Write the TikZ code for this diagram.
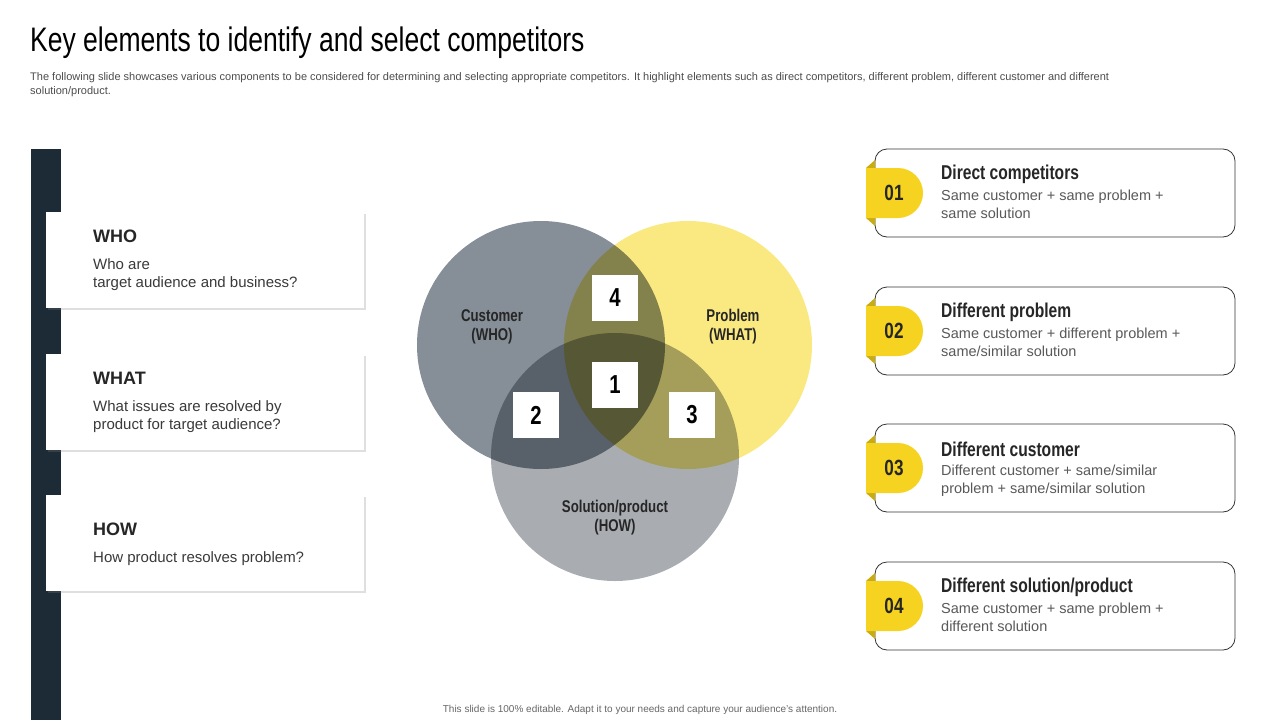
\documentclass[tikz,border=0pt]{standalone}
\usepackage{fontspec}
\setmainfont{Liberation Sans}
\newfontfamily\condfont[FakeStretch=0.78]{Liberation Sans}
\usetikzlibrary{shadows}
\definecolor{mdark}{HTML}{1C2B36}
\definecolor{myellow}{HTML}{F5D320}
\definecolor{mfold}{HTML}{C9AC10}
\definecolor{mcust}{HTML}{868E97}
\definecolor{mprob}{HTML}{FAE981}
\definecolor{msol}{HTML}{A9ADB2}
\definecolor{mtext}{HTML}{3A3A3A}
\tikzset{
  leftcard/.style={fill=white, drop shadow={shadow xshift=2pt, shadow yshift=-2pt, opacity=0.25}},
  cardhead/.style={anchor=west, font=\fontsize{18}{20}\selectfont\bfseries, text=black!85},
  cardbody/.style={anchor=north west, align=left, font=\fontsize{15}{18}\selectfont, text=mtext},
  numbox/.style={fill=white, minimum size=46pt, inner sep=0pt, font=\condfont\fontsize{26}{28}\selectfont\bfseries},
  vennlabel/.style={align=center, font=\condfont\fontsize{17}{19}\selectfont\bfseries, text=black!85},
  rightcard/.style={draw=black!80, fill=white, rounded corners=12pt, line width=0.8pt},
  righthead/.style={anchor=west, font=\condfont\fontsize{20}{22}\selectfont\bfseries, text=black!85},
  rightbody/.style={anchor=north west, align=left, font=\fontsize{14.5}{18}\selectfont, text=black!65}
}
\begin{document}
\begin{tikzpicture}[x=1pt, y=-1pt]
  \useasboundingbox (0,0) rectangle (1280,720);
  % title
  \node[anchor=west, inner sep=0pt, font=\condfont\fontsize{34}{36}\selectfont] (title) at (30,43) {Key elements to identify and select competitors};
  \node[anchor=north west, inner sep=0pt, align=left, font=\fontsize{11}{14}\selectfont, text=black!70] (sub) at (30,72)
    {The following slide showcases various components to be considered for determining and selecting appropriate competitors. It highlight elements such as direct competitors, different problem, different customer and different\\solution/product.};
  % left side
  \fill[mdark] (31,149) rectangle (61,720);
  \foreach \y/\dy/\head/\body in {212/24/WHO/{Who are\\target audience and business?}, 354/24/WHAT/{What issues are resolved by\\product for target audience?}, 495/34/HOW/{How product resolves problem?}} {
    \path[leftcard] (46,\y) rectangle (364,\y+96);
    \node[cardhead, inner sep=0pt] at (93,\y+\dy) {\head};
    \node[cardbody, inner sep=0pt] at (93,\y+\dy+22) {\body};
  }
  % venn
  \begin{scope}[blend group=multiply]
    \fill[mcust] (541,345) circle (124);
    \fill[mprob] (688,345) circle (124);
    \fill[msol] (615,457) circle (124);
  \end{scope}
  \node[vennlabel] (cust) at (492,327) {Customer\\(WHO)};
  \node[vennlabel] (prob) at (733,327) {Problem\\(WHAT)};
  \node[vennlabel] (sol) at (615,518) {Solution/product\\(HOW)};
  \node[numbox] (n4) at (615,298) {4};
  \node[numbox] (n1) at (615,385) {1};
  \node[numbox] (n2) at (536,415) {2};
  \node[numbox] (n3) at (692,415) {3};
  % right side
  \foreach \y/\num/\head/\body in {149/01/{Direct competitors}/{Same customer + same problem +\\same solution}, 287/02/{Different problem}/{Same customer + different problem +\\same/similar solution}, 424/03/{Different customer}/{Different customer + same/similar\\problem + same/similar solution}, 562/04/{Different solution/product}/{Same customer + same problem +\\different solution}} {
    \path[rightcard] (875,\y) rectangle (1235,\y+88);
    \fill[mfold] (866,\y+19) -- (875,\y+11) -- (875,\y+77) -- (866,\y+69) -- cycle;
    \fill[myellow] (866,\y+19) -- (898,\y+19) arc (-90:90:25) -- (866,\y+69) -- cycle;
    \node[font=\condfont\fontsize{22}{24}\selectfont\bfseries, text=black!85] at (894,\y+44) {\num};
    \node[righthead, inner sep=0pt] at (941,\y+25) {\head};
    \node[rightbody, inner sep=0pt] at (941,\y+41) {\body};
  }
  % footer
  \node[font=\fontsize{10}{12}\selectfont, text=black!60] (foot) at (640,710) {This slide is 100\% editable. Adapt it to your needs and capture your audience's attention.};
\end{tikzpicture}
\end{document}
